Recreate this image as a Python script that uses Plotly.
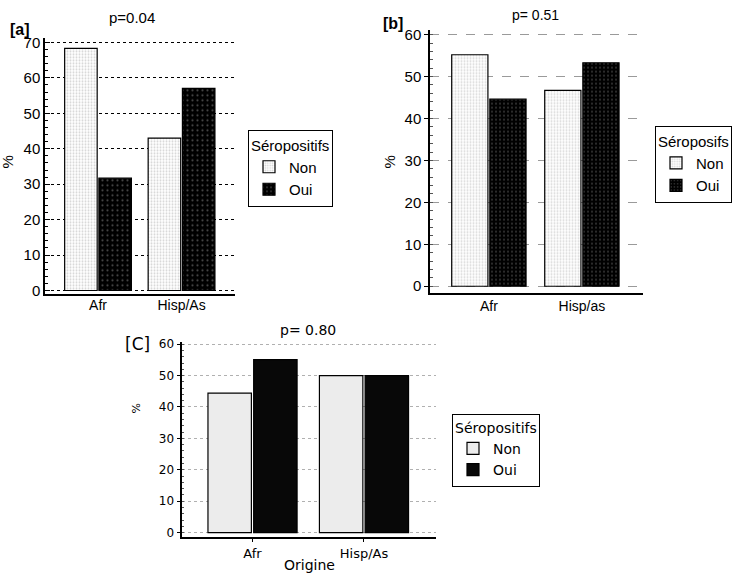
import plotly.graph_objects as go

# ---- data ----
cats_a = ["Afr", "Hisp/As"]
non_a = [68.3, 43.0]
oui_a = [31.7, 57.0]

cats_b = ["Afr", "Hisp/as"]
non_b = [55.2, 46.7]
oui_b = [44.6, 53.3]

cats_c = ["Afr", "Hisp/As"]
non_c = [44.4, 50.0]
oui_c = [55.1, 50.0]

series_names = ["Non", "Oui"]
yticks_a = [0, 10, 20, 30, 40, 50, 60, 70]
yticks_bc = [0, 10, 20, 30, 40, 50, 60]

W, H = 744, 577
def fx(px):
    return px / W
def fy(py):
    return 1 - py / H

FA = "Liberation Sans Narrow, Liberation Sans, Arial"
FB = "Liberation Sans, Arial"
FC = "DejaVu Sans, Verdana"

fig = go.Figure()

# Panel a
fig.add_trace(go.Bar(x=cats_a, y=non_a, name=series_names[0], xaxis="x", yaxis="y", legend="legend",
                     marker=dict(color="white", line=dict(color="black", width=1.2),
                                 pattern=dict(shape=".", fgcolor="#a8a8a8", size=3, solidity=0.35))))
fig.add_trace(go.Bar(x=cats_a, y=oui_a, name=series_names[1], xaxis="x", yaxis="y", legend="legend",
                     marker=dict(color="black", line=dict(color="black", width=1.2),
                                 pattern=dict(shape=".", fgcolor="#9a9a9a", bgcolor="black", size=5, solidity=0.15))))
# Panel b
fig.add_trace(go.Bar(x=cats_b, y=non_b, name=series_names[0], xaxis="x2", yaxis="y2", legend="legend2",
                     marker=dict(color="white", line=dict(color="black", width=1.2),
                                 pattern=dict(shape=".", fgcolor="#b0b0b0", size=3, solidity=0.35))))
fig.add_trace(go.Bar(x=cats_b, y=oui_b, name=series_names[1], xaxis="x2", yaxis="y2", legend="legend2",
                     marker=dict(color="black", line=dict(color="black", width=1.2),
                                 pattern=dict(shape=".", fgcolor="#707070", bgcolor="black", size=4, solidity=0.2))))
# Panel c
fig.add_trace(go.Bar(x=cats_c, y=non_c, name=series_names[0], xaxis="x3", yaxis="y3", legend="legend3",
                     marker=dict(color="#ececec", line=dict(color="black", width=1.2))))
fig.add_trace(go.Bar(x=cats_c, y=oui_c, name=series_names[1], xaxis="x3", yaxis="y3", legend="legend3",
                     marker=dict(color="#080808", line=dict(color="black", width=1.2))))

axis_common = dict(showline=True, linecolor="black", linewidth=1.5, zeroline=False, fixedrange=True)

fig.update_layout(
    width=W, height=H,
    margin=dict(l=0, r=0, t=0, b=0),
    paper_bgcolor="white", plot_bgcolor="white",
    barmode="group", bargap=0.18, bargroupgap=0.05,
    xaxis=dict(domain=[fx(45), fx(235)], range=[-0.635, 1.64], anchor="y", showgrid=False, ticks="",
               ticklabelstandoff=-3,
               tickfont=dict(family=FA, size=14, color="black"), **axis_common),
    yaxis=dict(domain=[fy(294), fy(33.3)], range=[-1.1, 71.3], anchor="x", tickvals=yticks_a,
               showgrid=True, gridcolor="black", griddash="dot", gridwidth=1,
               ticks="inside", ticklen=5, tickcolor="black",
               minor=dict(ticks="inside", ticklen=3, dtick=2, tickcolor="black", showgrid=False),
               tickfont=dict(family=FA, size=15, color="black"), **axis_common),
    xaxis2=dict(domain=[fx(430), fx(643)], range=[-0.633, 1.657], anchor="y2", showgrid=False, ticks="",
                tickfont=dict(family=FB, size=14, color="black"), **axis_common),
    yaxis2=dict(domain=[fy(292.3), fy(25)], range=[-1.55, 61.2], anchor="x2", tickvals=yticks_bc,
                showgrid=True, gridcolor="#9a9a9a", griddash="dash", gridwidth=1,
                ticks="outside", ticklen=4, tickcolor="black",
                minor=dict(ticks="inside", ticklen=3, dtick=2, tickcolor="#555", showgrid=False),
                tickfont=dict(family=FB, size=15, color="black"), **axis_common),
    xaxis3=dict(domain=[fx(182.3), fx(436)], range=[-0.63, 1.646], anchor="y3", showgrid=False,
                ticks="outside", ticklen=4, tickcolor="black",
                tickfont=dict(family=FC, size=13, color="black"), **axis_common),
    yaxis3=dict(domain=[fy(540), fy(342.3)], range=[-1.25, 60.7], anchor="x3", tickvals=yticks_bc,
                showgrid=True, gridcolor="#b0b0b0", griddash="dot", gridwidth=1,
                ticks="outside", ticklen=4, tickcolor="black",
                minor=dict(ticks="inside", ticklen=2, dtick=2, tickcolor="#555", showgrid=False),
                tickfont=dict(family=FC, size=12, color="black"), **axis_common),
    legend=dict(x=fx(248), y=fy(127), xanchor="left", yanchor="top", bordercolor="black", borderwidth=1,
                bgcolor="white", title=dict(text="Séropositifs", font=dict(family=FA, size=15, color="black")),
                font=dict(family=FA, size=15, color="black"), tracegroupgap=0),
    legend2=dict(x=fx(655), y=fy(123), xanchor="left", yanchor="top", bordercolor="black", borderwidth=1,
                 bgcolor="white", title=dict(text="Séroposifs", font=dict(family=FB, size=15, color="black")),
                 font=dict(family=FB, size=15, color="black"), tracegroupgap=0),
    legend3=dict(x=fx(452), y=fy(415), xanchor="left", yanchor="top", bordercolor="black", borderwidth=1,
                 bgcolor="white", title=dict(text="Séropositifs", font=dict(family=FC, size=14, color="black")),
                 font=dict(family=FC, size=14, color="black"), tracegroupgap=0),
    showlegend=True,
)

ann = []
def add_text(text, px, py, family, size, bold=False, angle=0):
    t = f"<b>{text}</b>" if bold else text
    ann.append(dict(text=t, x=fx(px), y=fy(py), xref="paper", yref="paper", showarrow=False,
                    xanchor="center", yanchor="middle", textangle=angle,
                    font=dict(family=family, size=size, color="black")))

add_text("p=0.04", 132, 13, FA, 15)
add_text("[a]", 20, 25, FB, 16, bold=True)
add_text("%", 8, 160, FA, 15, angle=-90)

add_text("p= 0.51", 535, 10, FB, 14)
add_text("[b]", 393, 19, FB, 16, bold=True)
add_text("%", 390, 160, FB, 15, angle=-90)

add_text("p= 0.80", 308, 330, FC, 14)
add_text("[C]", 137, 344, FC, 17)
add_text("%", 137, 410, FC, 11, angle=-90)
add_text("Origine", 309, 569, FC, 14)

fig.update_layout(annotations=ann)

fig.write_html("out.html", config={"displayModeBar": False},
               post_script="document.body.style.margin='0px';")
